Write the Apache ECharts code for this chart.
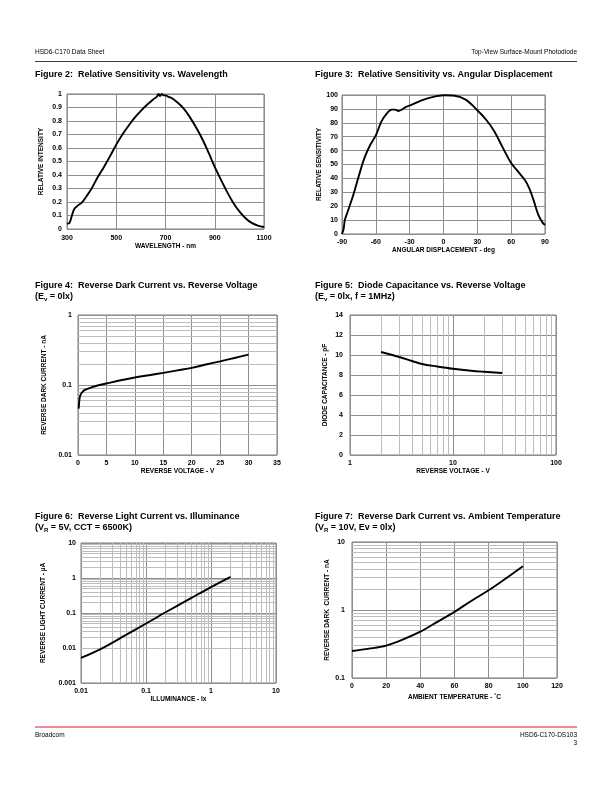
<!DOCTYPE html>
<html><head><meta charset="utf-8">
<script src="https://cdn.jsdelivr.net/npm/echarts@6/dist/echarts.min.js"></script>
<style>html,body{margin:0;padding:0;background:#fff}#c{width:612px;height:792px}</style>
</head><body><div id="c"></div>
<script>
// ---------- Figure 2: Relative Sensitivity vs. Wavelength ----------
const fig2Wavelength = [300,310,320,330,345,360,380,400,425,450,475,500,525,550,575,600,625,650,665,672,678,685,692,700,710,725,750,775,800,825,850,875,900,925,950,975,1000,1025,1050,1075,1100];
const fig2Intensity  = [0.04,0.045,0.10,0.15,0.175,0.195,0.245,0.30,0.385,0.46,0.54,0.625,0.70,0.765,0.825,0.875,0.92,0.96,0.98,1.0,0.985,1.0,0.99,0.99,0.98,0.97,0.935,0.89,0.825,0.75,0.665,0.565,0.46,0.365,0.275,0.195,0.13,0.08,0.045,0.025,0.015];
// ---------- Figure 3: Relative Sensitivity vs. Angular Displacement ----------
const fig3Angle = [-90,-88.5,-87.5,-85,-80,-75,-70,-65,-60,-55,-50,-46,-43,-40,-37,-33,-28,-20,-10,0,10,20,30,38,45,52,60,66,72,76,80,84,88,90];
const fig3Sens  = [0,4,10,16,28,42,55,64,71,81,87,89.5,89.5,88.5,89.5,91.5,93,96,98.5,99.8,99.5,96.5,89,82,74,63,51,45,39,33,24,14,8,6.5];
// ---------- Figure 4: Reverse Dark Current vs. Reverse Voltage ----------
const fig4Voltage = [0.12,0.2,0.3,0.5,0.8,1.2,2,3,5,7.5,10,12.5,15,17.5,20,22.5,25,27.5,30];
const fig4Current = [0.046,0.056,0.066,0.074,0.08,0.085,0.09,0.096,0.105,0.117,0.128,0.138,0.149,0.162,0.176,0.196,0.218,0.243,0.272];
// ---------- Figure 5: Diode Capacitance vs. Reverse Voltage ----------
const fig5Voltage = [2,3,4,5,7,10,15,20,30];
const fig5Cap     = [10.3,9.8,9.4,9.1,8.85,8.62,8.42,8.32,8.2];
// ---------- Figure 6: Reverse Light Current vs. Illuminance ----------
const fig6Lux     = [0.01,0.02,0.05,0.1,0.2,0.5,1,2];
const fig6Current = [0.0052,0.0093,0.024,0.05,0.105,0.27,0.55,1.08];
// ---------- Figure 7: Reverse Dark Current vs. Ambient Temperature ----------
const fig7Temp    = [0,10,20,30,40,50,60,70,80,90,100];
const fig7Current = [0.25,0.27,0.30,0.37,0.48,0.67,0.94,1.37,1.95,2.9,4.4];

// minor (2..9) grid lines inside log decades
function decadeMinors(lo, hi) {
  const out = [];
  for (let e = lo; e < hi; e++) for (let m = 2; m <= 9; m++) out.push(+(m * Math.pow(10, e)).toPrecision(3));
  return out;
}
const fig4MinorY = decadeMinors(-2, 0);
const fig5MinorX = decadeMinors(0, 2);
const fig6MinorX = decadeMinors(-2, 1);
const fig6MinorY = decadeMinors(-3, 1);
const fig7MinorY = decadeMinors(-1, 1);

const FONT = '"Liberation Sans", Arial, Helvetica, sans-serif';
const MAJOR = '#8e8e8e', MINOR = '#bdbdbd', BORDER = '#7a7a7a';

const grids = [
  {left:67, top:94, width:197, height:135},
  {left:342, top:95, width:203, height:139},
  {left:78, top:315, width:199, height:140},
  {left:350, top:315, width:206, height:140},
  {left:81, top:543, width:195, height:140},
  {left:352, top:542, width:205, height:136}
].map(g => Object.assign(g, {show:true, borderColor:BORDER, borderWidth:1, backgroundColor:'transparent', containLabel:false}));

function axis(gi, type, o) {
  const a = {
    gridIndex: gi, type: type, nameLocation: 'middle',
    nameTextStyle: {fontFamily: FONT, fontSize: 6.5, fontWeight: 'bold', color: '#000'},
    axisLine: {show: false}, axisTick: {show: false},
    axisLabel: {fontFamily: FONT, fontSize: 7, fontWeight: 'bold', color: '#000', margin: o.margin,
      formatter: v => String(+Number(v).toPrecision(6))},
    splitLine: {show: true, lineStyle: {color: MAJOR, width: 1}},
    minorTick: {show: false}, minorSplitLine: {show: false}
  };
  if (type === 'log') a.logBase = 10;
  ['min','max','interval','name','nameGap'].forEach(k => { if (o[k] !== undefined) a[k] = o[k]; });
  return a;
}

const xAxes = [
  axis(0, 'value', {min:300, max:1100, interval:200, name:'WAVELENGTH - nm', nameGap:13, margin:5.5}),
  axis(1, 'value', {min:-90, max:90, interval:30, name:'ANGULAR DISPLACEMENT - deg', nameGap:10, margin:5}),
  axis(2, 'value', {min:0, max:35, interval:5, name:'REVERSE VOLTAGE - V', nameGap:12, margin:4.5}),
  axis(3, 'log',   {min:1, max:100, name:'REVERSE VOLTAGE - V', nameGap:10, margin:4.5}),
  axis(4, 'log',   {min:0.01, max:10, name:'ILLUMINANCE - lx', nameGap:13, margin:4.5}),
  axis(5, 'value', {min:0, max:120, interval:20, name:'AMBIENT TEMPERATURE - \u02daC', nameGap:16, margin:4.5})
];
const yAxes = [
  axis(0, 'value', {min:0, max:1, interval:0.1, name:'RELATIVE INTENSITY', nameGap:22, margin:5}),
  axis(1, 'value', {min:0, max:100, interval:10, name:'RELATIVE SENSITIVITY', nameGap:17, margin:4}),
  axis(2, 'log',   {min:0.01, max:1, name:'REVERSE DARK CURRENT - nA', nameGap:30, margin:6}),
  axis(3, 'value', {min:0, max:14, interval:2, name:'DIODE CAPACITANCE - pF', nameGap:21, margin:7}),
  axis(4, 'log',   {min:0.001, max:10, name:'REVERSE LIGHT CURRENT - \u00b5A', nameGap:34, margin:5}),
  axis(5, 'log',   {min:0.1, max:10, name:'REVERSE DARK  CURRENT - nA', nameGap:21, margin:7})
];

function minorLines(i, dim, vals) {
  return {
    type: 'line', xAxisIndex: i, yAxisIndex: i, data: [], silent: true, z: 1,
    markLine: {
      silent: true, symbol: ['none','none'], label: {show: false}, animation: false,
      lineStyle: {color: MINOR, width: 1, type: 'solid'}, emphasis: {disabled: true},
      data: vals.map(v => dim === 'x' ? {xAxis: v} : {yAxis: v})
    }
  };
}
function curve(i, xs, ys) {
  return {
    type: 'line', xAxisIndex: i, yAxisIndex: i, data: xs.map((x, k) => [x, ys[k]]),
    showSymbol: false, symbol: 'none', smooth: 0.35, silent: true, z: 5,
    lineStyle: {color: '#000', width: 1.9}
  };
}

const series = [
  minorLines(2, 'y', fig4MinorY),
  minorLines(3, 'x', fig5MinorX),
  minorLines(4, 'x', fig6MinorX),
  minorLines(4, 'y', fig6MinorY),
  minorLines(5, 'y', fig7MinorY),
  curve(0, fig2Wavelength, fig2Intensity),
  curve(1, fig3Angle, fig3Sens),
  curve(2, fig4Voltage, fig4Current),
  curve(3, fig5Voltage, fig5Cap),
  curve(4, fig6Lux, fig6Current),
  curve(5, fig7Temp, fig7Current)
];

const rich = {
  b: {fontFamily: FONT, fontSize: 9, fontWeight: 'bold', color: '#000', lineHeight: 11},
  s: {fontFamily: FONT, fontSize: 6, fontWeight: 'bold', color: '#000', lineHeight: 5, verticalAlign: 'bottom'}
};
function ttl(left, top, text) {
  return {left: left, top: top, padding: 0, text: text, textStyle: {rich: rich, fontFamily: FONT, fontSize: 9, fontWeight: 'bold', color: '#000', lineHeight: 11}};
}
const titles = [
  ttl(35, 69.5, '{b|Figure 2:  Relative Sensitivity vs. Wavelength}'),
  ttl(315, 69.5, '{b|Figure 3:  Relative Sensitivity vs. Angular Displacement}'),
  ttl(35, 280, '{b|Figure 4:  Reverse Dark Current vs. Reverse Voltage}\n{b|(E}{s|v}{b| = 0lx)}'),
  ttl(315, 280, '{b|Figure 5:  Diode Capacitance vs. Reverse Voltage}\n{b|(E}{s|v}{b| = 0lx, f = 1MHz)}'),
  ttl(35, 511.5, '{b|Figure 6:  Reverse Light Current vs. Illuminance}\n{b|(V}{s|R}{b| = 5V, CCT = 6500K)}'),
  ttl(315, 511.5, '{b|Figure 7:  Reverse Dark Current vs. Ambient Temperature}\n{b|(V}{s|R}{b| = 10V, Ev = 0lx)}')
];

const small = '6.5px ' + FONT;
const graphic = [
  {type: 'text', left: 35, top: 48.5, style: {text: 'HSD6-C170 Data Sheet', font: small, fill: '#000'}},
  {type: 'text', right: 35, top: 48.5, style: {text: 'Top-View Surface-Mount Photodiode', font: small, fill: '#000'}},
  {type: 'line', shape: {x1: 35, y1: 61.5, x2: 577, y2: 61.5}, style: {stroke: '#3a3a3a', lineWidth: 1}},
  {type: 'line', shape: {x1: 35, y1: 727, x2: 577, y2: 727}, style: {stroke: '#e0697a', lineWidth: 1.5}},
  {type: 'text', left: 35, top: 731.5, style: {text: 'Broadcom', font: small, fill: '#000'}},
  {type: 'text', right: 35, top: 731.5, style: {text: 'HSD6-C170-DS103', font: small, fill: '#000'}},
  {type: 'text', right: 35, top: 740, style: {text: '3', font: small, fill: '#000'}}
];

const chart = echarts.init(document.getElementById('c'), null, {renderer: 'canvas'});
chart.setOption({
  animation: false,
  backgroundColor: '#fff',
  title: titles,
  grid: grids,
  xAxis: xAxes,
  yAxis: yAxes,
  series: series,
  graphic: graphic
});
</script>
</body></html>
